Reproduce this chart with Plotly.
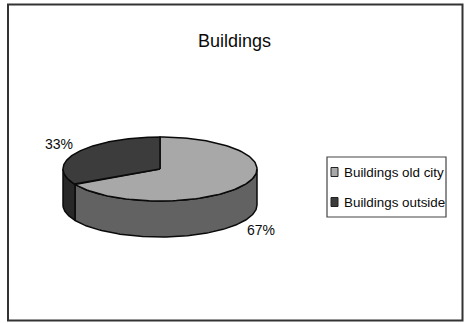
import numpy as np
import plotly.graph_objects as go

# Chart data
title_text = "Buildings"
categories = ["Buildings old city", "Buildings outside"]
values = [67, 33]

# Styling
top_colors = ["#a8a8a8", "#3c3c3c"]
side_colors = ["#626262", "#282828"]
W, H = 464, 323
FONT = "Liberation Sans, Arial, sans-serif"
EDGE = dict(color="#0a0a0a", width=1.5)

# Pie geometry (pixel space, y grows downward)
cx, cy = 160.0, 169.0
rx, ry = 97.0, 32.0
depth = 36.0


def ellipse_pts(a0, a1, n=120, dy=0.0):
    a = np.radians(np.linspace(a0, a1, n))
    return cx + rx * np.cos(a), cy - ry * np.sin(a) + dy


fig = go.Figure()

total = float(sum(values))
spans = []
start = 90.0
for v in values:
    sweep = 360.0 * v / total
    spans.append((start, start - sweep))  # clockwise from 12 o'clock
    start -= sweep

# Side walls: only the front half of the cylinder is visible
for (a0, a1), col in zip(spans, side_colors):
    lo, hi = min(a0, a1), max(a0, a1)
    for base in (-360.0, 0.0):
        s, e = max(lo, base - 180.0), min(hi, base)
        if e - s <= 0.01:
            continue
        xt, yt = ellipse_pts(s, e)
        xb, yb = ellipse_pts(e, s, dy=depth)
        xs = np.concatenate([xt, xb, xt[:1]])
        ys = np.concatenate([yt, yb, yt[:1]])
        fig.add_trace(go.Scatter(x=xs, y=ys, mode="lines", fill="toself",
                                 fillcolor=col, line=EDGE,
                                 hoverinfo="skip", showlegend=False))

# Top faces
for (a0, a1), col, name in zip(spans, top_colors, categories):
    xa, ya = ellipse_pts(a0, a1)
    xs = np.concatenate([[cx], xa, [cx]])
    ys = np.concatenate([[cy], ya, [cy]])
    fig.add_trace(go.Scatter(x=xs, y=ys, mode="lines", fill="toself",
                             fillcolor=col, line=EDGE,
                             name=name, hoverinfo="name", showlegend=False))

# Percentage labels outside each slice
for (a0, a1), v in zip(spans, values):
    m = np.radians((a0 + a1) / 2.0)
    lx = cx + (rx + 20) * np.cos(m)
    ly = cy - (ry + 18) * np.sin(m) + (depth if np.sin(m) < 0 else 0)
    fig.add_annotation(x=lx, y=ly, text=f"{round(v / total * 100)}%",
                       showarrow=False, font=dict(family=FONT, size=14, color="#0a0a0a"),
                       xanchor="center", yanchor="middle")

# Title
fig.add_annotation(x=234, y=41, text=title_text, showarrow=False,
                   font=dict(family=FONT, size=18, color="#0a0a0a"),
                   xanchor="center", yanchor="middle")

# Legend box
lg_x0, lg_y0, lg_x1, lg_y1 = 327, 157, 446, 217
fig.add_shape(type="rect", x0=lg_x0, y0=lg_y0, x1=lg_x1, y1=lg_y1,
              line=dict(color="#444444", width=1.2), fillcolor="white", layer="below")
row_y = [172, 202]
for yy, col, name in zip(row_y, top_colors, categories):
    fig.add_shape(type="rect", x0=331, y0=yy - 4.5, x1=338, y1=yy + 4.5,
                  line=dict(color="#222222", width=1), fillcolor=col)
    fig.add_annotation(x=342, y=yy, text=name, showarrow=False,
                       font=dict(family=FONT, size=13.4, color="#0a0a0a"),
                       xanchor="left", yanchor="middle")

# Chart frame
fig.add_shape(type="rect", x0=8, y0=4.5, x1=462.5, y1=320.5,
              line=dict(color="#333333", width=2), layer="below")

fig.update_layout(
    width=W, height=H, autosize=False,
    margin=dict(l=0, r=0, t=0, b=0),
    paper_bgcolor="white", plot_bgcolor="white",
    xaxis=dict(range=[0, W], visible=False, fixedrange=True),
    yaxis=dict(range=[H, 0], visible=False, fixedrange=True),
    showlegend=False,
)

fig.write_html("out.html")
